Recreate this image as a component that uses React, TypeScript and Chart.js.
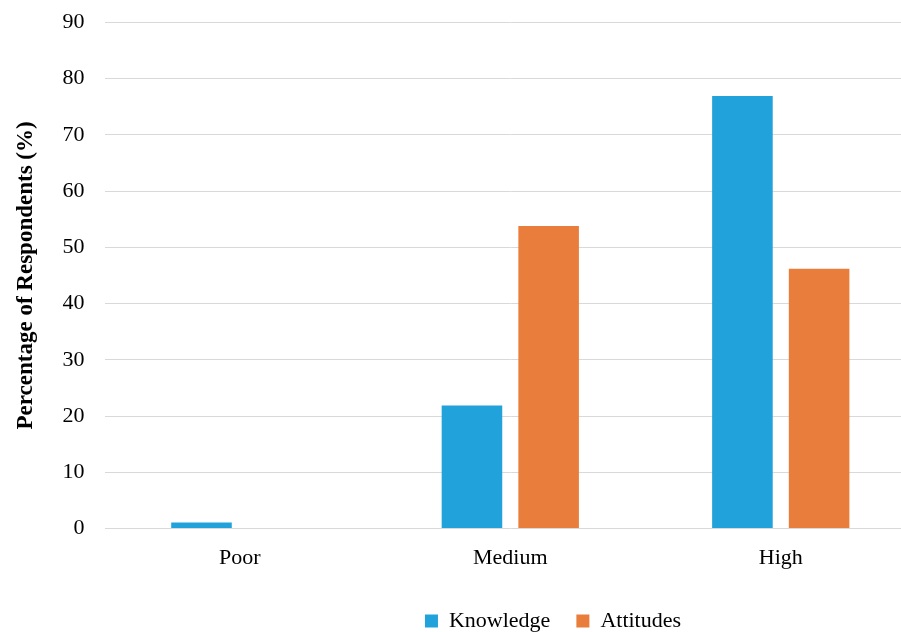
import React, { useEffect, useRef } from "react";
import { Chart, registerables } from "chart.js";

Chart.register(...registerables);

const categories = ["Poor", "Medium", "High"];
const knowledge = [1.1, 21.9, 76.9];
const attitudes = [0, 53.8, 46.2];
const yTicks = [0, 10, 20, 30, 40, 50, 60, 70, 80, 90];

const FONT = "'Times New Roman', 'Liberation Serif', serif";

const shiftLegend = {
  id: "shiftLegend",
  afterLayout(chart: any) {
    if (chart.legend) chart.legend.left += 182;
  },
};

export default function App() {
  const ref = useRef<HTMLCanvasElement | null>(null);
  useEffect(() => {
    if (!ref.current) return;
    const chart = new Chart(ref.current, {
      type: "bar",
      data: {
        labels: categories,
        datasets: [
          {
            label: "Knowledge",
            data: knowledge,
            backgroundColor: "#21A2DA",
            categoryPercentage: 0.567,
            barPercentage: 0.79,
          },
          {
            label: "Attitudes",
            data: attitudes,
            backgroundColor: "#E97E3C",
            categoryPercentage: 0.567,
            barPercentage: 0.79,
          },
        ],
      },
      options: {
        responsive: false,
        animation: false,
        layout: { padding: { left: 8, top: 12, right: 0, bottom: 0 } },
        plugins: {
          tooltip: { enabled: false },
          legend: {
            position: "bottom",
            labels: {
              font: { family: FONT, size: 22 },
              color: "#000",
              boxWidth: 13,
              boxHeight: 13,
              padding: 26,
            },
          },
        },
        scales: {
          x: {
            grid: { display: false },
            border: { display: false },
            ticks: { font: { family: FONT, size: 22 }, color: "#000", padding: 8 },
            afterFit: (scale: any) => {
              scale.height += 5;
            },
          },
          y: {
            min: 0,
            max: 90,
            afterBuildTicks: (axis: any) => {
              axis.ticks = yTicks.map((v) => ({ value: v }));
            },
            grid: { color: "#D9D9D9", lineWidth: 1, drawTicks: false },
            border: { display: false },
            ticks: { font: { family: FONT, size: 22 }, color: "#000", padding: 20 },
            title: {
              display: true,
              text: "Percentage of Respondents (%)",
              font: { family: FONT, size: 23, weight: "bold" },
              color: "#000",
              padding: { top: 4, bottom: 3 },
            },
          },
        },
      },
      plugins: [shiftLegend],
    });
    return () => chart.destroy();
  }, []);
  return (
    <div style={{ position: "fixed", left: 0, top: 0, width: 901, height: 632, overflow: "hidden", background: "#fff" }}>
      <canvas ref={ref} width={916} height={653} style={{ display: "block", marginTop: -11 }} />
    </div>
  );
}
